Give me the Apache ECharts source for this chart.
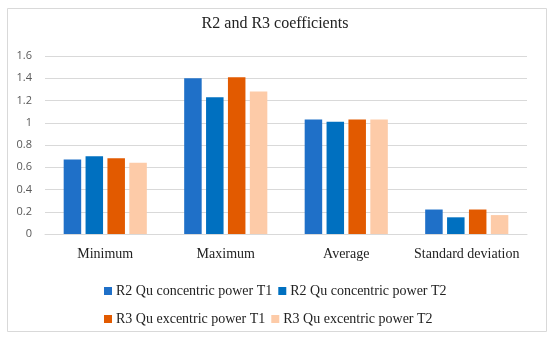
<!DOCTYPE html>
<html><head><meta charset="utf-8">
<script src="https://cdn.jsdelivr.net/npm/echarts@6/dist/echarts.min.js"></script>
<style>html,body{margin:0;padding:0;background:#fff}#c{width:550px;height:340px}</style>
</head><body><div id="c"></div>
<script>
const categories = ["Minimum", "Maximum", "Average", "Standard deviation"];
const seriesNames = ["R2 Qu concentric power T1", "R2 Qu concentric power T2", "R3 Qu excentric power T1", "R3 Qu excentric power T2"];
const r2T1 = [0.67, 1.40, 1.03, 0.22];
const r2T2 = [0.70, 1.23, 1.01, 0.15];
const r3T1 = [0.68, 1.41, 1.03, 0.22];
const r3T2 = [0.64, 1.28, 1.03, 0.17];
const colors = ["#1F70C8", "#0070C0", "#E25A00", "#FDCBA8"];
const values = [r2T1, r2T2, r3T1, r3T2];

const chart = echarts.init(document.getElementById('c'), null, {renderer: 'canvas'});
const serif = "'Liberation Serif', 'DejaVu Serif', serif";
chart.setOption({
  animation: false,
  backgroundColor: '#fff',
  title: {
    text: 'R2 and R3 coefficients', left: 'center', top: 11,
    textStyle: {fontFamily: serif, fontSize: 16, fontWeight: 'normal', color: '#222'}
  },
  graphic: [{
    type: 'rect', left: 5, top: 6, shape: {width: 539, height: 323},
    style: {fill: 'none', stroke: '#d9d9d9', lineWidth: 1}, silent: true, z: -1
  }],
  legend: [
    {data: seriesNames.slice(0, 2), left: 99, top: 279, itemWidth: 8, itemHeight: 8, itemGap: 6,
     icon: 'rect', textStyle: {fontFamily: serif, fontSize: 14, color: '#222', padding: [0,0,0,-1]}},
    {data: seriesNames.slice(2, 4), left: 99, top: 307, itemWidth: 8, itemHeight: 8, itemGap: 6,
     icon: 'rect', textStyle: {fontFamily: serif, fontSize: 14, color: '#222', padding: [0,0,0,-1]}}
  ],
  grid: {left: 45, right: 23, top: 56, bottom: 106},
  xAxis: {
    type: 'category', data: categories,
    axisLine: {lineStyle: {color: '#d9d9d9'}}, axisTick: {show: false},
    axisLabel: {fontFamily: serif, fontSize: 14, color: '#222', margin: 13, interval: 0}
  },
  yAxis: {
    type: 'value', min: 0, max: 1.6, interval: 0.2,
    axisLine: {show: false}, axisTick: {show: false},
    splitLine: {lineStyle: {color: '#d9d9d9'}},
    axisLabel: {fontFamily: "'Open Sans', sans-serif", fontSize: 11, color: '#595959', margin: 13,
      formatter: v => String(Math.round(v * 10) / 10)}
  },
  series: seriesNames.map((n, i) => ({
    name: n, type: 'bar', data: values[i], barGap: '25%', barCategoryGap: '31%',
    itemStyle: {color: colors[i]}
  }))
});
</script></body></html>
